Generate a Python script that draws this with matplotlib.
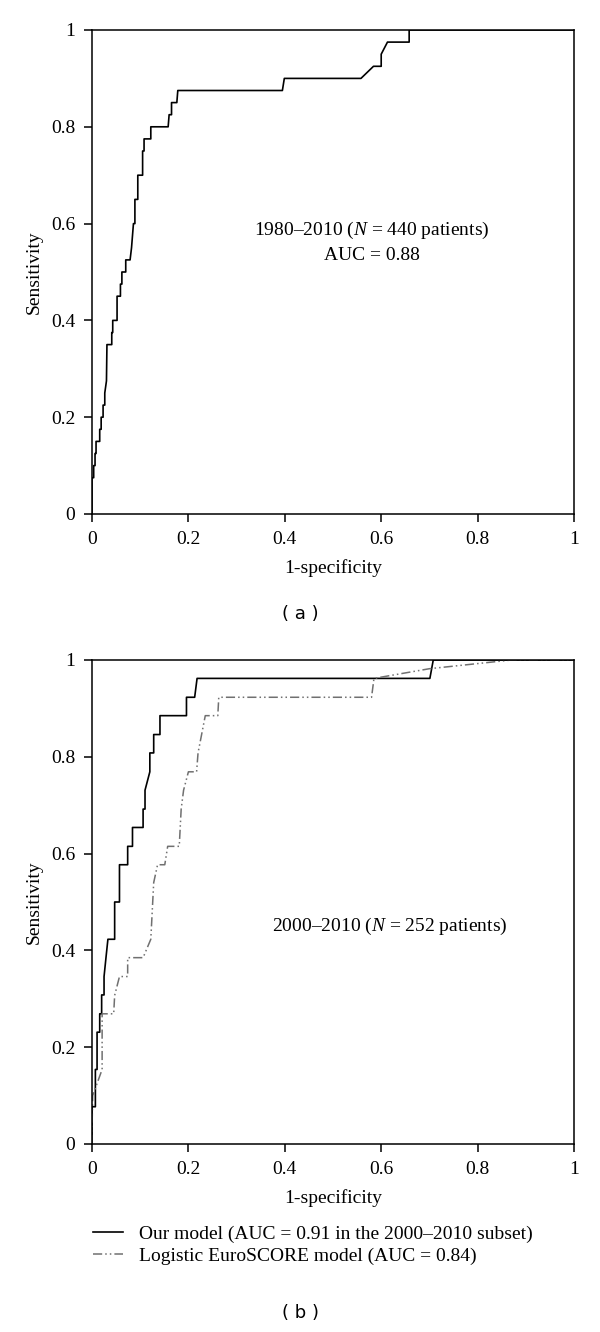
import matplotlib.pyplot as plt

plt.rcParams['font.family'] = ['Liberation Serif', 'DejaVu Serif']
plt.rcParams['mathtext.fontset'] = 'custom'
plt.rcParams['mathtext.it'] = 'Liberation Serif:italic'
plt.rcParams['mathtext.rm'] = 'Liberation Serif'

# panel (a): 1980-2010, our model
fpr_a = [0, 0, 0.0035, 0.0035, 0.0063, 0.0063, 0.0084, 0.0084, 0.016, 0.016, 0.019, 0.019,
         0.023, 0.023, 0.0265, 0.0265, 0.030, 0.031, 0.041, 0.041, 0.043, 0.043, 0.052, 0.052,
         0.059, 0.059, 0.062, 0.062, 0.070, 0.070, 0.079, 0.082, 0.084, 0.086, 0.089, 0.089,
         0.095, 0.095, 0.105, 0.105, 0.108, 0.108, 0.122, 0.122, 0.158, 0.160, 0.165, 0.165,
         0.176, 0.178, 0.395, 0.399, 0.558, 0.584, 0.600, 0.600, 0.613, 0.658, 0.658, 1.0]
tpr_a = [0, 0.075, 0.075, 0.100, 0.100, 0.125, 0.125, 0.150, 0.150, 0.175, 0.175, 0.200,
         0.200, 0.225, 0.225, 0.250, 0.275, 0.350, 0.350, 0.375, 0.375, 0.400, 0.400, 0.450,
         0.450, 0.475, 0.475, 0.500, 0.500, 0.525, 0.525, 0.550, 0.575, 0.600, 0.600, 0.650,
         0.650, 0.700, 0.700, 0.750, 0.750, 0.775, 0.775, 0.800, 0.800, 0.825, 0.825, 0.850,
         0.850, 0.875, 0.875, 0.900, 0.900, 0.925, 0.925, 0.950, 0.975, 0.975, 1.0, 1.0]

# panel (b): 2000-2010, our model
fpr_b = [0, 0, 0.007, 0.007, 0.0105, 0.0105, 0.016, 0.016, 0.020, 0.020, 0.025, 0.025,
         0.029, 0.033, 0.047, 0.047, 0.057, 0.057, 0.074, 0.074, 0.084, 0.084, 0.106, 0.106,
         0.110, 0.110, 0.120, 0.120, 0.128, 0.128, 0.141, 0.141, 0.196, 0.196, 0.213, 0.218,
         0.701, 0.708, 1.0]
tpr_b = [0, 0.077, 0.077, 0.154, 0.154, 0.231, 0.231, 0.269, 0.269, 0.308, 0.308, 0.346,
         0.385, 0.423, 0.423, 0.500, 0.500, 0.577, 0.577, 0.615, 0.615, 0.654, 0.654, 0.692,
         0.692, 0.731, 0.769, 0.808, 0.808, 0.846, 0.846, 0.885, 0.885, 0.923, 0.923, 0.962,
         0.962, 1.0, 1.0]

# panel (b): logistic EuroSCORE
fpr_e = [0, 0, 0.0014, 0.021, 0.021, 0.033, 0.045, 0.047, 0.047, 0.057, 0.057, 0.074,
         0.074, 0.106, 0.122, 0.128, 0.136, 0.151, 0.157, 0.181, 0.185, 0.190, 0.200, 0.217,
         0.220, 0.235, 0.261, 0.263, 0.580, 0.585, 0.700, 0.870, 1.0]
tpr_e = [0, 0.030, 0.100, 0.154, 0.269, 0.269, 0.269, 0.307, 0.307, 0.346, 0.346, 0.346,
         0.385, 0.385, 0.423, 0.540, 0.577, 0.577, 0.615, 0.615, 0.692, 0.731, 0.769, 0.769,
         0.808, 0.885, 0.885, 0.923, 0.923, 0.962, 0.982, 1.0, 1.0]

ticks = [0, 0.2, 0.4, 0.6, 0.8, 1]
tick_labels = ['0', '0.2', '0.4', '0.6', '0.8', '1']

FS = 14

fig = plt.figure(figsize=(6, 13.32), dpi=100)
W, H = 600, 1332
ax_a = fig.add_axes([92 / W, 1 - 514 / H, 482 / W, 484 / H])
ax_b = fig.add_axes([92 / W, 1 - 1144 / H, 482 / W, 484 / H])

def style(ax):
    ax.set_xlim(0, 1)
    ax.set_ylim(0, 1)
    ax.set_xticks(ticks, tick_labels)
    ax.set_yticks(ticks, tick_labels)
    ax.tick_params(direction='out', length=6, width=1.1, labelsize=FS, pad=6)
    for s in ax.spines.values():
        s.set_linewidth(1.1)
    ax.set_xlabel('1-specificity', fontsize=FS, labelpad=8)
    ax.set_ylabel('Sensitivity', fontsize=FS, labelpad=6)

style(ax_a)
ax_a.plot(fpr_a, tpr_a, color='black', lw=1.2)
ax_a.text(0.58, 0.585, '1980–2010 ($N$ = 440 patients)', ha='center', va='center', fontsize=FS)
ax_a.text(0.58, 0.535, 'AUC = 0.88', ha='center', va='center', fontsize=FS)

style(ax_b)
l1, = ax_b.plot(fpr_b, tpr_b, color='black', lw=1.2,
                label='Our model (AUC = 0.91 in the 2000–2010 subset)')
l2, = ax_b.plot(fpr_e, tpr_e, color='#707070', lw=1.1, dashes=(6, 2, 1, 2, 1, 2),
                label='Logistic EuroSCORE model (AUC = 0.84)')
ax_b.text(0.617, 0.45, '2000–2010 ($N$ = 252 patients)', ha='center', va='center', fontsize=FS)

fig.legend(handles=[l1, l2], loc='upper left', bbox_to_anchor=(93 / W, 1 - 1225 / H),
           frameon=False, fontsize=FS, handlelength=1.55, handletextpad=0.8,
           labelspacing=0.22, borderaxespad=0, borderpad=0)

fig.text(0.5, 1 - 614 / H, '( a )', ha='center', va='center', fontsize=13, family='DejaVu Sans')
fig.text(0.5, 1 - 1313 / H, '( b )', ha='center', va='center', fontsize=13, family='DejaVu Sans')

fig.savefig('out.png', dpi=100)
